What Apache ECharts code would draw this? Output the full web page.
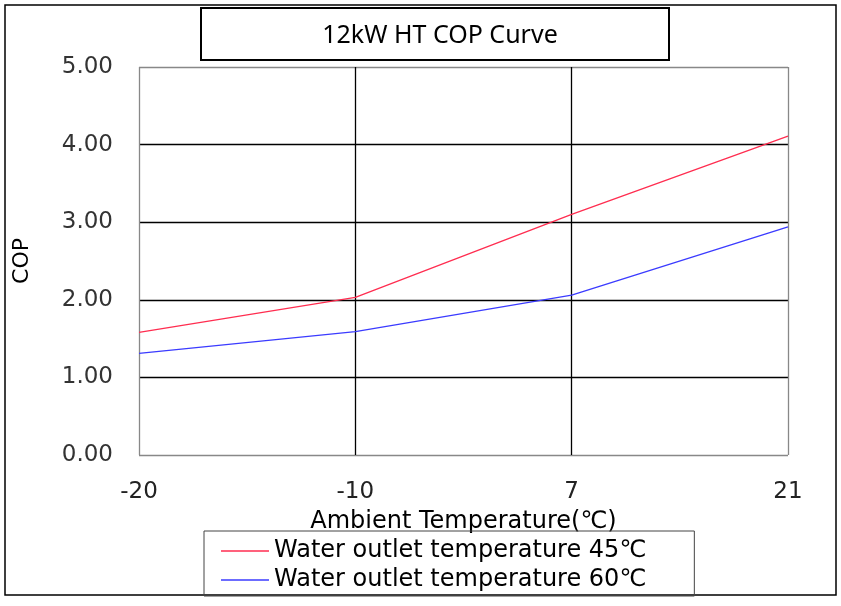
<!DOCTYPE html>
<html>
<head>
<meta charset="utf-8">
<script src="https://cdn.jsdelivr.net/npm/echarts@6/dist/echarts.min.js"></script>
<style>html,body{margin:0;padding:0;background:#fff}#c{width:841px;height:606px}</style>
</head>
<body>
<div id="c"></div>
<script>
const titleText = '12kW HT COP Curve';
const categories = ['-20', '-10', '7', '21'];
const seriesNames = ['Water outlet temperature 45\u2103', 'Water outlet temperature 60\u2103'];
const cop45 = [1.58, 2.03, 3.10, 4.11];
const cop60 = [1.31, 1.59, 2.06, 2.94];
const yTicks = [0, 1, 2, 3, 4, 5];

const gFont = 'DejaVu Sans';
const chart = echarts.init(document.getElementById('c'), null, {renderer: 'canvas'});
chart.setOption({
  animation: false,
  backgroundColor: '#fff',
  title: {
    text: titleText,
    left: 435, top: 18, textAlign: 'center',
    textStyle: {fontFamily: 'Noto Sans', fontSize: 25, fontWeight: 'normal', color: '#000'}
  },
  graphic: [
    {type: 'rect', shape: {x: 5, y: 5, width: 831, height: 590}, style: {fill: 'none', stroke: '#000', lineWidth: 1.5}, z: -1},
    {type: 'rect', shape: {x: 201, y: 8, width: 468, height: 52}, style: {fill: 'none', stroke: '#000', lineWidth: 2}}
  ],
  legend: {
    orient: 'vertical',
    left: 204, top: 531,
    borderColor: '#444', borderWidth: 1,
    padding: [7, 48, 3, 17],
    itemGap: 3,
    itemWidth: 48, itemHeight: 1.4,
    icon: 'rect',
    textStyle: {fontFamily: gFont, fontSize: 24, color: '#000', lineHeight: 26},
    data: seriesNames
  },
  grid: {left: 139, right: 53, top: 67, bottom: 151, containLabel: false},
  xAxis: {
    type: 'category',
    data: categories,
    boundaryGap: false,
    name: 'Ambient Temperature(\u2103)',
    nameLocation: 'middle',
    nameGap: 55,
    nameTextStyle: {fontFamily: gFont, fontSize: 24, color: '#000'},
    axisLine: {show: false},
    axisTick: {show: false},
    axisLabel: {fontFamily: gFont, fontSize: 23, color: '#222', margin: 26},
    splitLine: {show: true, lineStyle: {color: ['#888', '#000', '#000', '#888'], width: 1.3}}
  },
  yAxis: {
    type: 'value',
    min: yTicks[0], max: yTicks[yTicks.length - 1], interval: 1,
    name: 'COP',
    nameLocation: 'middle',
    nameGap: 106,
    nameTextStyle: {fontFamily: gFont, fontSize: 22, color: '#000'},
    axisLine: {show: false},
    axisTick: {show: false},
    axisLabel: {fontFamily: gFont, fontSize: 23, color: '#333', margin: 26, formatter: v => v.toFixed(2)},
    splitLine: {show: true, lineStyle: {color: ['#888', '#000', '#000', '#000', '#000', '#888'], width: 1.3}}
  },
  series: [
    {name: seriesNames[0], type: 'line', data: cop45, symbol: 'none', lineStyle: {color: '#ff2d50', width: 1.3}, itemStyle: {color: '#ff2d50'}},
    {name: seriesNames[1], type: 'line', data: cop60, symbol: 'none', lineStyle: {color: '#3b3bff', width: 1.3}, itemStyle: {color: '#3b3bff'}}
  ]
});
</script>
</body>
</html>
